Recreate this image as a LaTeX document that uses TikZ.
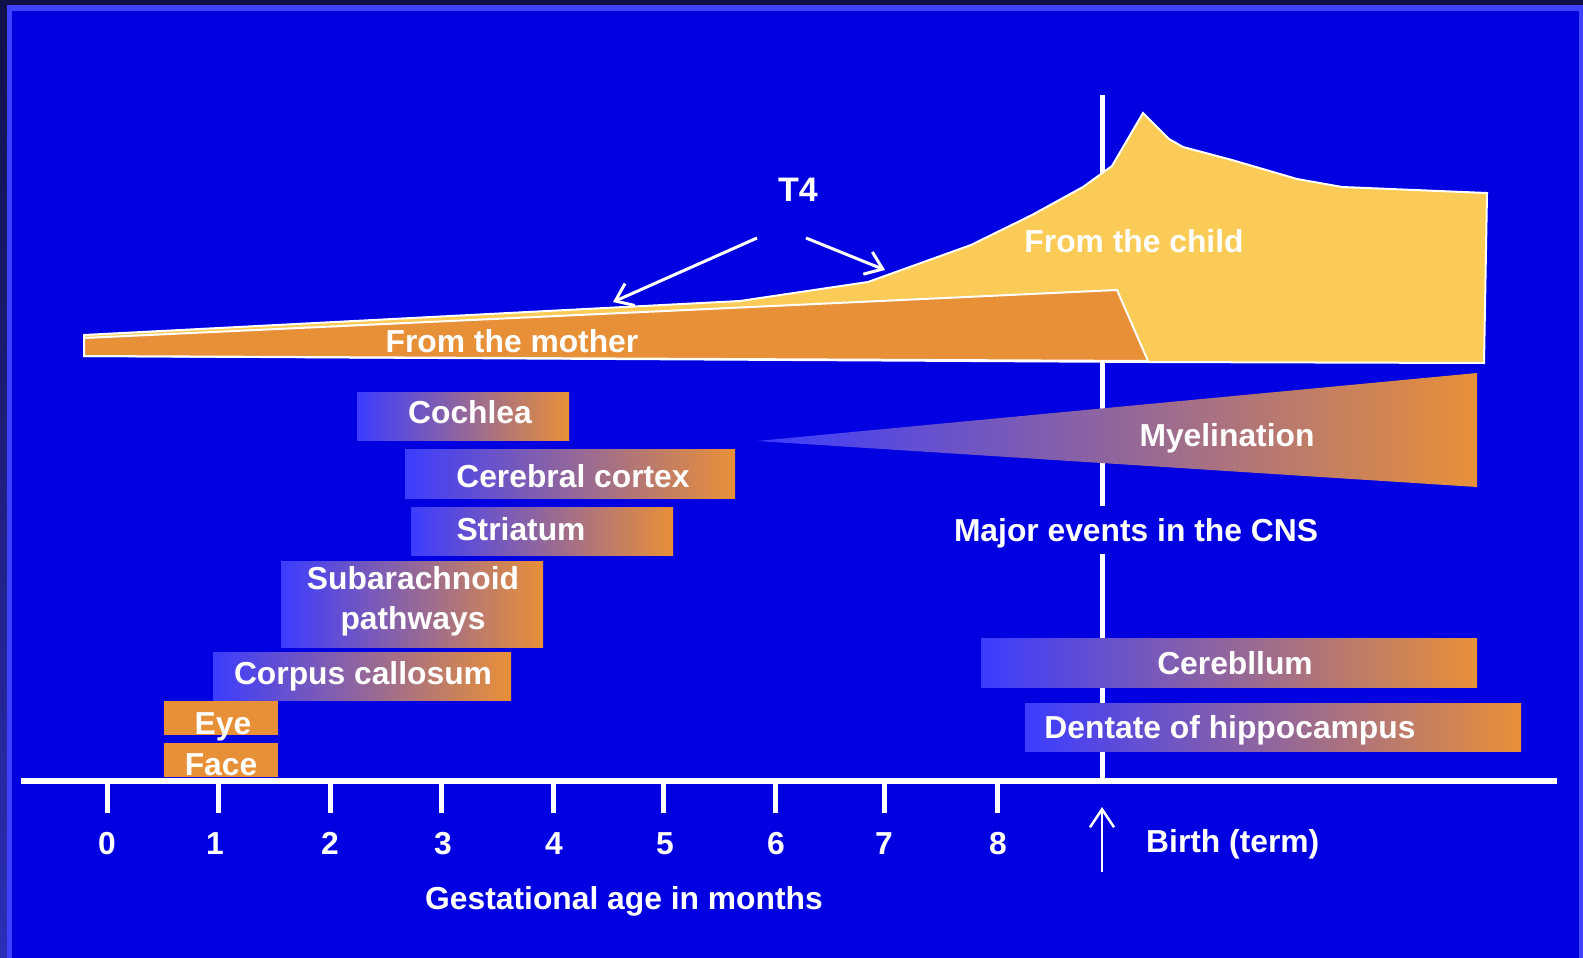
\documentclass[tikz,border=0pt]{standalone}
\usepackage{fontspec}
\setmainfont{Liberation Sans}
\usetikzlibrary{arrows.meta}

\definecolor{slideblue}{HTML}{0000E0}
\definecolor{rimblue}{HTML}{4040FF}
\definecolor{darkrim}{HTML}{10104A}
\definecolor{childyellow}{HTML}{FBCB57}
\definecolor{motherorange}{HTML}{E89038}
\definecolor{fadeblue}{HTML}{3C3CFF}
\definecolor{fademid}{HTML}{B468B4}

\tikzset{
  lbl/.style={text=white, inner sep=0pt, text height=22.8pt, text depth=0pt,
    font=\fontsize{31.8}{36}\selectfont\bfseries},
  fadebar/.style={left color=fadeblue, middle color=fademid, right color=motherorange},
  tickline/.style={white, line width=5pt},
  pointer/.style={white, line width=3pt, -{Straight Barb[length=16pt,width=24pt,line width=3pt]}},
}

\begin{document}
\begin{tikzpicture}[x=1pt, y=-1pt]
  \useasboundingbox (0,0) rectangle (1583,958);

  % Slide background with its rim
  \shade[top color=darkrim, bottom color=darkrim!40!rimblue] (0,0) rectangle (1583,958);
  \fill[rimblue] (7,5.5) rectangle (1583,958);
  \fill[slideblue] (12,11) rectangle (1579,958);

  % Birth line (drawn first, the shapes lie over it)
  \draw[white, line width=5pt] (1102,95) -- (1102,781);

  % T4 from the child
  \filldraw[fill=childyellow, draw=white, line width=2pt]
    (84,335) -- (740,301) -- (868,282) -- (971,245) -- (1032,215) -- (1083,187)
    -- (1112,166) -- (1143,113) -- (1169,139) -- (1183,147) -- (1232,160)
    -- (1297,179) -- (1342,187) -- (1487,193) -- (1484,363) -- (1148,362)
    -- (84,356) -- cycle;

  % T4 from the mother
  \filldraw[fill=motherorange, draw=white, line width=2pt]
    (84,338) -- (1117,290) -- (1148,361) -- (84,356) -- cycle;

  \node[lbl] (child) at (1134,241) {From the child};
  \node[lbl] (mother) at (512,341) {From the mother};

  % T4 label and its arrows
  \node[lbl, font=\fontsize{34}{38}\selectfont\bfseries, text height=24.5pt] (t4) at (798,189) {T4};
  \coordinate (t4left) at (757,238);
  \coordinate (t4right) at (806,238);
  \coordinate (mothertip) at (613,302);
  \coordinate (childtip) at (885,270);
  \draw[pointer] (t4left) -- (mothertip);
  \draw[pointer] (t4right) -- (childtip);

  % Myelination wedge
  \shade[left color=fadeblue, middle color=fademid, right color=motherorange]
    (757,441) -- (1477,373) -- (1477,487) -- cycle;
  \node[lbl] (myelin) at (1227,435) {Myelination};

  % Events before birth
  \shade[fadebar] (357,392) rectangle (569,440);
  \node[lbl] (cochlea) at (470,412) {Cochlea};
  \shade[fadebar] (405,449) rectangle (735,498);
  \node[lbl] (cortex) at (573,476) {Cerebral cortex};
  \shade[fadebar] (411,507) rectangle (673,555);
  \node[lbl] (striatum) at (521,529) {Striatum};
  \shade[fadebar] (281,561) rectangle (543,647);
  \node[lbl] (subarach) at (413,578) {Subarachnoid};
  \node[lbl] (pathways) at (413,618) {pathways};
  \shade[fadebar] (213,652) rectangle (511,700);
  \node[lbl] (callosum) at (363,673) {Corpus callosum};
  \fill[motherorange] (164,701) rectangle (278,735);
  \node[lbl] (eye) at (223,723) {Eye};
  \fill[motherorange] (164,743) rectangle (278,777);
  \node[lbl] (face) at (221,764) {Face};

  % Title of the chart, it hides the birth line
  \node[lbl, fill=slideblue, inner xsep=3pt, inner ysep=13pt] (cns) at (1136,530) {Major events in the CNS};

  % Events after birth
  \shade[fadebar] (981,638) rectangle (1477,687);
  \node[lbl] (cerebellum) at (1235,663) {Cerebllum};
  \shade[fadebar] (1025,703) rectangle (1521,751);
  \node[lbl] (dentate) at (1230,727) {Dentate of hippocampus};

  % Time axis
  \draw[white, line width=6pt] (21,781) -- (1557,781);
  \draw[tickline] (107,781) -- (107,813);
  \draw[tickline] (218,781) -- (218,813);
  \draw[tickline] (330,781) -- (330,813);
  \draw[tickline] (441,781) -- (441,813);
  \draw[tickline] (553,781) -- (553,813);
  \draw[tickline] (663,781) -- (663,813);
  \draw[tickline] (775,781) -- (775,813);
  \draw[tickline] (884,781) -- (884,813);
  \draw[tickline] (997,781) -- (997,813);
  \node[lbl] (m0) at (107,843) {0};
  \node[lbl] (m1) at (215,843) {1};
  \node[lbl] (m2) at (330,843) {2};
  \node[lbl] (m3) at (443,843) {3};
  \node[lbl] (m4) at (554,843) {4};
  \node[lbl] (m5) at (665,843) {5};
  \node[lbl] (m6) at (776,843) {6};
  \node[lbl] (m7) at (884,843) {7};
  \node[lbl] (m8) at (998,843) {8};
  \node[lbl] (gest) at (624,898) {Gestational age in months};

  % Birth marker
  \coordinate (birthfoot) at (1102,872);
  \coordinate (birthtip) at (1102,807);
  \draw[white, line width=2.5pt, -{Straight Barb[length=18pt,width=24pt,line width=2.5pt]}] (birthfoot) -- (birthtip);
  \node[lbl, anchor=west] (birth) at (1146,841) {Birth (term)};
\end{tikzpicture}
\end{document}
